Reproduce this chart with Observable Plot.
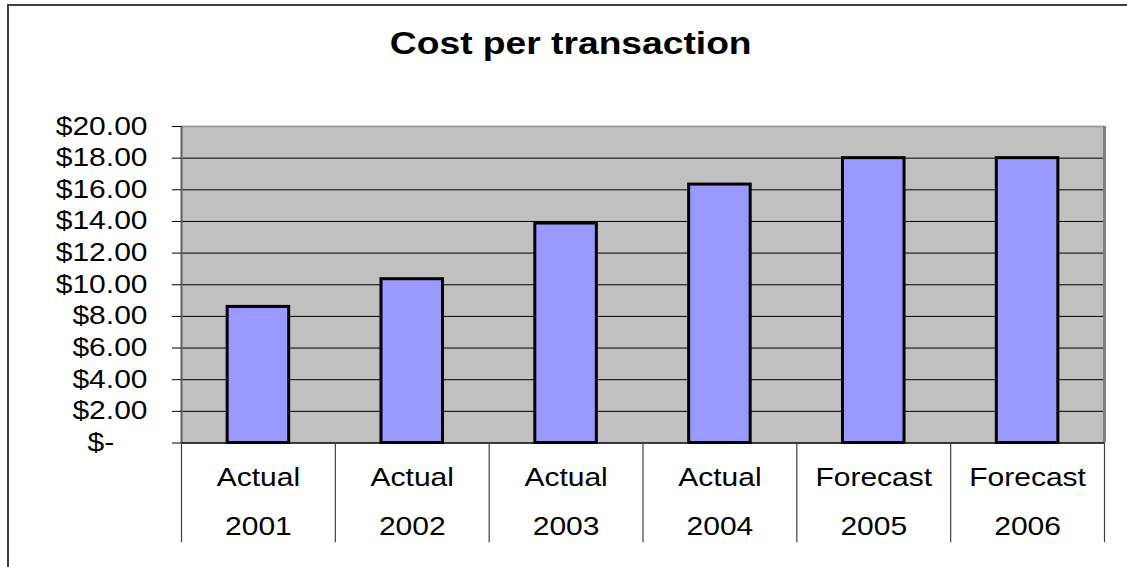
<!DOCTYPE html>
<html><head><meta charset="utf-8">
<script src="https://cdn.jsdelivr.net/npm/d3@7"></script>
<script src="https://cdn.jsdelivr.net/npm/@observablehq/plot@0.6"></script>
<style>
body{margin:0;background:#fff;}
#page{position:relative;width:1127px;height:567px;overflow:hidden;font-family:"Liberation Sans",Arial,sans-serif;background:#fff;}
#frame{position:absolute;left:7px;top:4px;width:1200px;height:700px;border:2px solid #404040;box-sizing:border-box;}
#title{position:absolute;left:0;top:29px;width:1142px;text-align:center;font-size:31px;line-height:30px;font-weight:bold;color:#000;}
#title span{display:inline-block;transform:scaleX(1.2);}
#chart{position:absolute;left:0;top:90px;}
</style>
</head><body>
<div id="page">
  <div id="frame"></div>
  <div id="title"><span>Cost per transaction</span></div>
  <div id="chart"></div>
</div>
<script>
const stages = ["Actual", "Actual", "Actual", "Actual", "Forecast", "Forecast"];
const years = ["2001", "2002", "2003", "2004", "2005", "2006"];
const costs = [8.6, 10.35, 13.87, 16.33, 18.0, 18.0];
const yTicks = [0, 2, 4, 6, 8, 10, 12, 14, 16, 18, 20];

const data = years.map((year, i) => ({i, stage: stages[i], year, cost: costs[i]}));
const fmt = d => d === 0 ? "$-\u2007\u2007" : "$" + d.toFixed(2);

const chart = Plot.plot({
  width: 1127,
  height: 477,
  marginLeft: 181,
  marginRight: 23,
  marginTop: 36,
  marginBottom: 124.5,
  style: {fontFamily: "Liberation Sans, Arial, sans-serif", fontSize: "25px", color: "#000", background: "transparent", overflow: "visible"},
  x: {domain: [0, years.length], axis: null},
  y: {domain: [0, 20], axis: null},
  marks: [
    Plot.frame({fill: "#c0c0c0"}),
    Plot.ruleY(yTicks.filter(d => d > 0 && d < 20), {stroke: "#000", strokeWidth: 1}),
    Plot.ruleY([20], {stroke: "#a0a0a0", strokeWidth: 2}),
    Plot.ruleX([years.length], {stroke: "#808080", strokeWidth: 3}),
    Plot.ruleX([0], {stroke: "#606060", strokeWidth: 2}),
    Plot.rectY(data, {x1: d => d.i + 0.3, x2: d => d.i + 0.7, y: "cost", fill: "#9999ff", stroke: "#000", strokeWidth: 3}),
    Plot.ruleY([0], {stroke: "#000", strokeWidth: 1.5}),
    Plot.ruleX(d3.range(years.length + 1), {y1: 0, y2: -6.3, stroke: "#404040", strokeWidth: 1.2}),
    Plot.axisY({ticks: yTicks, tickFormat: fmt, tickSize: 9, tickPadding: 25, label: null, stroke: "#000"}),
    Plot.text(data, {x: d => d.i + 0.5, text: "stage", frameAnchor: "bottom", lineAnchor: "middle", dy: 34.5, fill: "#000"}),
    Plot.text(data, {x: d => d.i + 0.5, text: "year", frameAnchor: "bottom", lineAnchor: "middle", dy: 84, fill: "#000"})
  ]
});

// horizontally widen the glyphs to match the reference's stretched lettering
chart.querySelectorAll("text").forEach(t => {
  const x = parseFloat(t.getAttribute("x"));
  let tr = t.getAttribute("transform") || "";
  if (!isNaN(x) && x !== 0 && !/em/.test(t.getAttribute("x"))) {
    tr += ` translate(${x},0)`;
    t.setAttribute("x", 0);
  }
  t.setAttribute("transform", tr + " scale(1.2,1)");
});

document.getElementById("chart").append(chart);
</script>
</body></html>
